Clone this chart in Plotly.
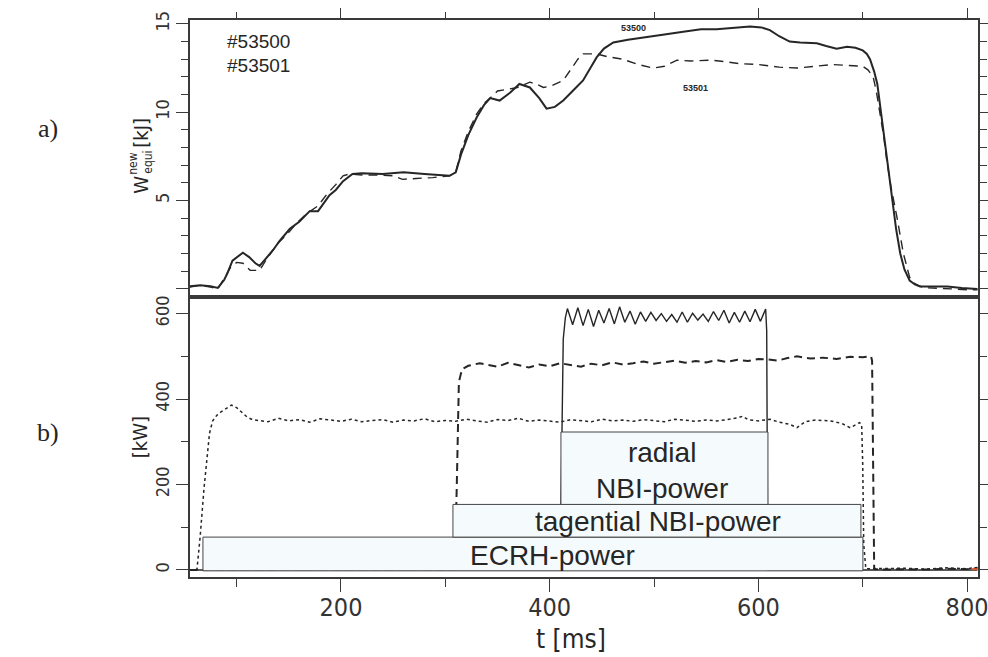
import plotly.graph_objects as go

# a) stored energy W_equi^new [kJ]
t_53500 = [55, 65, 75, 82, 88, 91, 96, 100, 106, 112, 118, 122, 128, 135, 141, 151, 160, 170, 178, 189,
           195, 202, 211, 220, 240, 260, 280, 295, 304, 310, 315, 322, 330, 337, 343, 352, 362, 371, 381, 390,
           397, 405, 413, 422, 432, 440, 445, 452, 461, 475, 496, 510, 528, 545, 560, 575, 592, 603, 611, 620,
           630, 640, 656, 665, 675, 685, 693, 700, 704, 707, 711, 714, 717, 720, 724, 728, 732, 736, 740, 745,
           750, 755, 765, 781, 795, 810]
w_53500 = [0.15, 0.2, 0.15, 0.05, 0.5, 0.86, 1.6, 1.8, 2.05, 1.8, 1.45, 1.3, 1.7, 2.2, 2.7, 3.4, 3.8, 4.4, 4.4, 5.3,
           5.6, 6.1, 6.5, 6.55, 6.5, 6.6, 6.5, 6.45, 6.4, 6.6, 7.6, 8.7, 9.7, 10.4, 10.8, 10.66, 11.1, 11.6, 11.4, 10.8,
           10.2, 10.3, 10.66, 11.2, 11.8, 12.6, 13.1, 13.6, 13.95, 14.1, 14.3, 14.4, 14.55, 14.7, 14.7, 14.75, 14.85, 14.8, 14.65, 14.3,
           14.0, 13.95, 13.9, 13.75, 13.6, 13.7, 13.65, 13.5, 13.3, 13.0, 12.3, 11.6, 10.2, 8.8, 6.8, 5.0, 3.4, 2.0, 1.1, 0.47,
           0.25, 0.13, 0.12, 0.13, 0.05, 0.0]

t_53501 = [55, 65, 75, 82, 87, 94, 100, 106, 113, 122, 130, 139, 150, 158, 168, 178, 187, 195, 202, 208,
           220, 235, 250, 259, 272, 288, 304, 310, 315, 322, 330, 337, 343, 350, 360, 369, 381, 387, 394, 402,
           413, 420, 427, 432, 445, 455, 470, 485, 499, 510, 522, 535, 554, 570, 582, 600, 620, 637, 655, 671,
           685, 700, 705, 710, 713, 716, 720, 723, 727, 733, 739, 745, 750, 758, 770, 785, 800, 810]
w_53501 = [0.1, 0.2, 0.1, 0.0, 0.5, 1.2, 1.5, 1.45, 1.05, 1.05, 1.8, 2.55, 3.2, 3.75, 4.3, 4.7, 5.4, 5.9, 6.4, 6.5,
           6.45, 6.45, 6.4, 6.2, 6.25, 6.3, 6.4, 6.6, 7.8, 8.9, 9.9, 10.5, 10.8, 11.2, 11.3, 11.4, 11.7, 11.6, 11.4, 11.5,
           11.8, 12.4, 13.0, 13.3, 13.3, 13.15, 13.0, 12.7, 12.5, 12.6, 12.95, 12.9, 12.95, 12.85, 12.75, 12.7, 12.55, 12.5, 12.6, 12.7,
           12.65, 12.6, 12.4, 12.0, 11.2, 10.1, 8.7, 7.3, 5.8, 4.0, 2.0, 0.65, 0.3, 0.07, 0.05, 0.0, -0.05, -0.05]

# b) heating power [kW]
t_ecrh = [55, 60, 62, 65, 68.8, 71.6, 74, 77, 81, 85, 90, 95, 100, 105, 110, 115,
          120, 130, 140, 150, 160, 170, 180, 190, 200, 210, 220, 230, 240, 250, 260, 270, 280, 290,
          300, 310, 320, 330, 340, 350, 360, 370, 380, 390, 400, 410, 420, 430, 440, 450, 460, 470,
          480, 490, 500, 510, 520, 530, 540, 550, 560, 570, 580, 585, 590, 600, 611, 620, 630, 637,
          645, 655, 669, 680, 688, 697, 699, 700, 701, 703, 720, 740, 760, 780, 800, 810]
p_ecrh = [0, 0, 2, 77, 193, 272, 320, 349, 362, 370, 378, 386, 380, 368, 358, 352,
          350, 347, 355, 349, 352, 346, 354, 351, 348, 353, 347, 350, 352, 346, 351, 349, 354, 347,
          350, 348, 353, 349, 346, 352, 350, 355, 348, 351, 349, 346, 352, 350, 347, 353, 349, 351,
          348, 352, 349, 347, 353, 350, 348, 351, 349, 352, 356, 360, 352, 349, 353, 346, 341, 333,
          347, 351, 349, 343, 333, 345, 340, 250, 60, 3, 3, 4, 2, 5, 3, 6]

t_tang = [55, 300, 309, 311, 313, 316, 322, 333, 342, 350, 360, 370, 380, 390, 400, 410, 420, 430, 440,
          450, 460, 470, 480, 490, 500, 510, 520, 530, 540, 550, 560, 570, 580, 590, 600, 608, 618,
          628, 637, 650, 662, 675, 688, 700, 708, 709, 710, 711, 720, 740, 760, 780, 800, 810]
p_tang = [0, 0, 0, 200, 440, 470, 478, 484, 480, 476, 485, 479, 474, 481, 477, 484, 480, 476, 483,
          479, 486, 481, 484, 488, 483, 487, 490, 485, 489, 486, 491, 487, 492, 489, 494, 493, 490,
          496, 500, 495, 497, 494, 499, 498, 500, 490, 250, 2, 1, 2, 1, 3, 2, 4]

t_rad = [55, 410, 413, 415,
         417, 422, 427, 432, 437, 442, 447, 452, 457, 462, 467, 472, 477, 482, 487, 492, 497, 502, 507, 512,
         517, 522, 527, 532, 537, 542, 547, 552, 557, 562, 567, 572, 577, 582, 587, 592, 597, 602, 607,
         608, 609, 810]
p_rad = [0, 0, 540, 590,
         612, 574, 614, 572, 610, 570, 608, 578, 612, 576, 616, 580, 606, 575, 604, 582, 603, 584, 600, 582,
         598, 580, 604, 580, 601, 585, 599, 582, 605, 584, 608, 578, 603, 580, 606, 581, 610, 582, 611,
         560, 0, 0]

t_red = [804, 810]
p_red = [2, 2]

# heating windows drawn as labelled boxes
heat_labels = ["ECRH-power", "tagential NBI-power", "radial<br>NBI-power"]
heat_start = [67.7, 307.3, 410.8]
heat_end = [700.2, 698.3, 609.2]

ink = "#262626"
frame = "#3a3a3a"
narrow = "DejaVu Sans Condensed, Liberation Sans Narrow, Roboto, sans-serif"
arial = "Liberation Sans, Arial, sans-serif"

fig = go.Figure()

# lower panel (x, y2)
fig.add_trace(go.Scatter(x=t_ecrh, y=p_ecrh, mode="lines", xaxis="x", yaxis="y2",
                         line=dict(color=ink, width=1.5, dash="dot")))
fig.add_trace(go.Scatter(x=t_tang, y=p_tang, mode="lines", xaxis="x", yaxis="y2",
                         line=dict(color=ink, width=2, dash="8px,5px")))
fig.add_trace(go.Scatter(x=t_rad, y=p_rad, mode="lines", xaxis="x", yaxis="y2",
                         line=dict(color=ink, width=1.4)))
fig.add_trace(go.Scatter(x=t_red, y=p_red, mode="lines", xaxis="x", yaxis="y2",
                         line=dict(color="#d9542b", width=2)))

# upper panel (x2, y)
fig.add_trace(go.Scatter(x=t_53500, y=w_53500, mode="lines", xaxis="x2", yaxis="y",
                         line=dict(color=ink, width=2)))
fig.add_trace(go.Scatter(x=t_53501, y=w_53501, mode="lines", xaxis="x2", yaxis="y",
                         line=dict(color=ink, width=1.4, dash="9px,6px")))

bands = [(-2, 77), (77, 153.5), (153.5, 323)]
for i in range(len(heat_labels)):
    fig.add_shape(type="rect", xref="x", yref="y2", x0=heat_start[i], x1=heat_end[i],
                  y0=bands[i][0], y1=bands[i][1], layer="above",
                  fillcolor="#f5fbfd", line=dict(color="#444444", width=1))

box_text = [(403, 35), (504, 114), (508, 233)]
for i in range(len(heat_labels)):
    fig.add_annotation(x=box_text[i][0], y=box_text[i][1], xref="x", yref="y2",
                       text=heat_labels[i], showarrow=False,
                       font=dict(family=arial, size=28, color=ink))


def px(x):
    return (x - 190) / 788


def py(y):
    return (577 - y) / 558


notes = [
    ("#53500", 258, 40.5, 19, arial, 0),
    ("#53501", 258, 65, 19, arial, 0),
    ("<b>53500</b>", 633, 27.5, 9, arial, 0),
    ("<b>53501</b>", 695, 87, 9, arial, 0),
    ("a)", 48, 128, 26, "Liberation Serif, Times New Roman, serif", 0),
    ("b)", 48, 432, 26, "Liberation Serif, Times New Roman, serif", 0),
    ("t [ms]", 571, 639, 26, narrow, 0),
    ("[kW]", 140, 437, 20, narrow, -90),
    ("W", 141, 184, 20, narrow, -90),
    ("new", 133, 163, 12, narrow, -90),
    ("equi", 148, 162, 12, narrow, -90),
    ("[kJ]", 141, 132, 20, narrow, -90),
]
for txt, x, y, size, fam, ang in notes:
    fig.add_annotation(x=px(x), y=py(y), xref="paper", yref="paper", text=txt,
                       showarrow=False, textangle=ang, xanchor="center", yanchor="middle",
                       font=dict(family=fam, size=size, color=ink))

split = (577 - 296.5) / 558

fig.update_layout(
    width=988, height=657, autosize=False,
    margin=dict(l=190, r=10, t=20, b=80),
    paper_bgcolor="white", plot_bgcolor="white",
    showlegend=False,
    xaxis=dict(domain=[0, 1], anchor="y2", range=[55.3, 810.5], side="bottom", automargin=False,
               ticklabeloverflow="allow",
               showline=True, linecolor=frame, linewidth=2, mirror=True,
               showgrid=False, zeroline=False,
               ticks="outside", tick0=0, dtick=200, ticklen=13, tickwidth=1.3, tickcolor=frame,
               ticklabelstandoff=-6,
               minor=dict(ticks="outside", tick0=0, dtick=100, ticklen=8, tickwidth=1.3, tickcolor=frame),
               tickfont=dict(family=narrow, size=25, color="#333333")),
    xaxis2=dict(domain=[0, 1], anchor="y", range=[55.3, 810.5], side="top", matches="x", automargin=False,
                showline=True, linecolor=frame, linewidth=2, mirror=True,
                showgrid=False, zeroline=False, showticklabels=False,
                ticks="outside", tick0=0, dtick=200, ticklen=10, tickwidth=1.3, tickcolor=frame,
                minor=dict(ticks="outside", tick0=0, dtick=100, ticklen=6, tickwidth=1.3, tickcolor=frame)),
    yaxis=dict(domain=[split, 1], anchor="x2", range=[-0.46, 15.22], automargin=False,
               ticklabeloverflow="allow",
               showline=True, linecolor=frame, linewidth=2, mirror="allticks",
               showgrid=False, zeroline=False,
               tickmode="array", tickvals=[0, 5, 10, 15], ticktext=["", "5", "10", "15"],
               ticks="outside", ticklen=12, tickwidth=1.3, tickcolor=frame, tickangle=-90,
               minor=dict(ticks="outside", tickvals=[1, 2, 3, 4, 6, 7, 8, 9, 11, 12, 13, 14],
                          ticklen=7, tickwidth=1.3, tickcolor=frame),
               tickfont=dict(family=narrow, size=18, color="#333333")),
    yaxis2=dict(domain=[0, split], anchor="x", range=[-16.4, 639], automargin=False,
                ticklabeloverflow="allow",
                showline=True, linecolor=frame, linewidth=2, mirror="allticks",
                showgrid=False, zeroline=False,
                tick0=0, dtick=200, ticks="outside", ticklen=12, tickwidth=1.3, tickcolor=frame, tickangle=-90,
                minor=dict(ticks="outside", tick0=0, dtick=100, ticklen=7, tickwidth=1.3, tickcolor=frame),
                tickfont=dict(family=narrow, size=18, color="#333333")),
)

# the page body has a default margin (and a scrollbar); remove both so the figure fills the window
fig.write_html("out.html", config={"displayModeBar": False, "responsive": False},
               post_script="document.body.style.margin='0px';document.body.style.overflow='hidden';")
